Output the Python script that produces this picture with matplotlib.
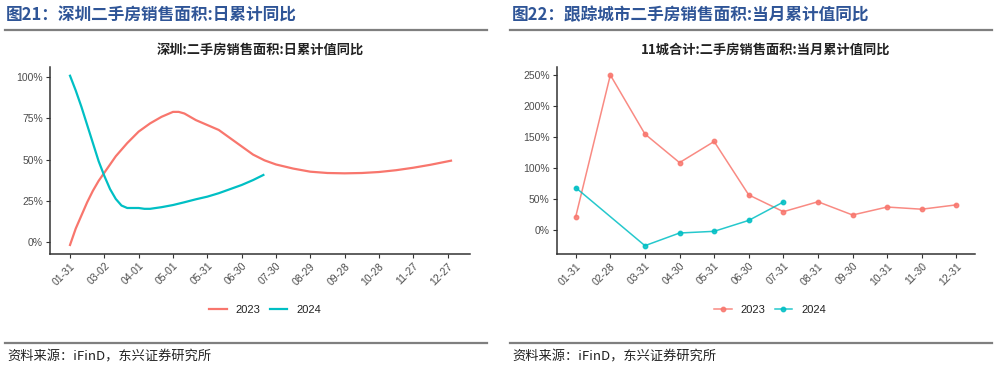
import matplotlib
matplotlib.use("Agg")
import matplotlib.pyplot as plt
from matplotlib.ticker import FuncFormatter
from matplotlib.lines import Line2D

plt.rcParams['font.family'] = ['Noto Sans CJK SC', 'DejaVu Sans']

# ---------------- data ----------------
# Left chart: Shenzhen, daily cumulative YoY (days since 01-31)
left_ticks = ["01-31", "03-02", "04-01", "05-01", "05-31", "06-30",
              "07-30", "08-29", "09-28", "10-28", "11-27", "12-27"]
sz_days_2023 = [0, 5, 10, 15, 20, 25, 30, 40, 50, 60, 70, 80, 90, 95, 100, 110,
                120, 130, 140, 150, 160, 170, 180, 195, 210, 225, 240, 255,
                270, 285, 300, 315, 333]
sz_vals_2023 = [-2, 8, 16, 24, 31, 37, 42, 52, 60, 67, 72, 76, 79, 79, 78, 74,
                71, 68, 63, 58, 53, 49.5, 47, 44.5, 42.6, 41.8, 41.6, 41.8,
                42.4, 43.5, 45, 46.8, 49.3]
sz_days_2024 = [0, 5, 10, 15, 20, 25, 30, 35, 40, 45, 50, 55, 60, 65, 70, 80,
                90, 100, 110, 120, 130, 140, 150, 160, 169]
sz_vals_2024 = [101, 92, 82, 71, 60, 49, 40, 32, 26, 22, 20.5, 20.5, 20.5, 20, 20, 21,
                22.3, 24, 25.8, 27.4, 29.5, 32, 34.5, 37.5, 40.6]

# Right chart: 11 cities, monthly cumulative YoY
right_ticks = ["01-31", "02-28", "03-31", "04-30", "05-31", "06-30",
               "07-31", "08-31", "09-30", "10-31", "11-30", "12-31"]
c11_idx_2023 = [0, 1, 2, 3, 4, 5, 6, 7, 8, 9, 10, 11]
c11_vals_2023 = [22, 250, 155, 109, 143, 57, 30, 46, 24.7, 37.5, 34, 41]
c11_idx_2024 = [0, 2, 3, 4, 5, 6]
c11_vals_2024 = [68.7, -24.7, -4.3, -1.6, 16, 45.6]

series_names = ["2023", "2024"]
C_RED = "#F8766D"
C_CYAN = "#00BFC4"
TITLE_BLUE = "#2F5597"
TICK_GRAY = "#4D4D4D"
LAT = ['Liberation Sans', 'DejaVu Sans']

W, H = 997, 370
fig = plt.figure(figsize=(W / 100, H / 100), dpi=100)


def fx(px):
    return px / W


def fy(py):
    return 1 - py / H


# headers
fig.text(fx(6), fy(15), "图21：深圳二手房销售面积:日累计同比", fontsize=12, fontweight='bold',
         color=TITLE_BLUE, va='center', ha='left')
fig.text(fx(512), fy(15), "图22：跟踪城市二手房销售面积:当月累计值同比", fontsize=12, fontweight='bold',
         color=TITLE_BLUE, va='center', ha='left')
for x0, x1 in [(5, 487), (510, 992)]:
    fig.add_artist(Line2D([fx(x0), fx(x1)], [fy(30), fy(30)], color="#7F7F7F", lw=1.6))
    fig.add_artist(Line2D([fx(x0), fx(x1)], [fy(343), fy(343)], color="#7F7F7F", lw=1.6))
fig.text(fx(7), fy(357), "资料来源：iFinD，东兴证券研究所", fontsize=9.5, style='italic',
         color="#222222", va='center', ha='left')
fig.text(fx(512), fy(357), "资料来源：iFinD，东兴证券研究所", fontsize=9.5, style='italic',
         color="#222222", va='center', ha='left')

pct = FuncFormatter(lambda v, p: f"{v:.0f}%")


def style_axes(ax):
    for s in ['top', 'right']:
        ax.spines[s].set_visible(False)
    for s in ['left', 'bottom']:
        ax.spines[s].set_color("#333333")
        ax.spines[s].set_linewidth(1.1)
    ax.tick_params(axis='both', length=3, width=0.8, color="#333333",
                   labelsize=7.5, labelcolor=TICK_GRAY, pad=2)
    ax.yaxis.set_major_formatter(pct)
    for lab in ax.get_xticklabels() + ax.get_yticklabels():
        lab.set_family(LAT)
    for lab in ax.get_xticklabels():
        lab.set_rotation(45)
        lab.set_ha('right')
        lab.set_va('top')
        lab.set_rotation_mode('anchor')


# left axes
axL = fig.add_axes([fx(50), fy(254), fx(470 - 50), (254 - 66.7) / H])
axL.plot(sz_days_2023, sz_vals_2023, color=C_RED, lw=1.6, label=series_names[0])
axL.plot(sz_days_2024, sz_vals_2024, color=C_CYAN, lw=1.6, label=series_names[1])
axL.set_xlim(-17.5, 349.6)
axL.set_ylim(-7.5, 106.5)
axL.set_xticks([30 * i for i in range(len(left_ticks))])
axL.set_xticklabels(left_ticks)
axL.set_yticks([0, 25, 50, 75, 100])
style_axes(axL)
axL.set_title("深圳:二手房销售面积:日累计值同比", fontsize=9.5, fontweight='bold',
              color="#222222", pad=9)
legL = fig.legend(handles=axL.get_lines(), labels=series_names, loc='center',
                  bbox_to_anchor=(fx(265), fy(310)), ncol=2, frameon=False,
                  prop={'family': LAT, 'size': 8},
                  handlelength=1.6, columnspacing=0.8, handletextpad=0.8)
for t in legL.get_texts():
    t.set_color("#222222")

# right axes
axR = fig.add_axes([fx(556.7), fy(254), fx(974.7 - 556.7), (254 - 66.7) / H])
axR.plot(c11_idx_2023, c11_vals_2023, color=C_RED, lw=1.1, alpha=0.85,
         marker='o', ms=3.2, label=series_names[0])
axR.plot(c11_idx_2024, c11_vals_2024, color=C_CYAN, lw=1.1, alpha=0.85,
         marker='o', ms=3.2, label=series_names[1])
axR.set_xlim(-0.55, 11.53)
axR.set_ylim(-38.1, 263.4)
axR.set_xticks(range(len(right_ticks)))
axR.set_xticklabels(right_ticks)
axR.set_yticks([0, 50, 100, 150, 200, 250])
style_axes(axR)
axR.set_title("11城合计:二手房销售面积:当月累计值同比", fontsize=9.5, fontweight='bold',
              color="#222222", pad=9)
legR = fig.legend(handles=axR.get_lines(), labels=series_names, loc='center',
                  bbox_to_anchor=(fx(770), fy(310)), ncol=2, frameon=False,
                  prop={'family': LAT, 'size': 8},
                  handlelength=1.6, columnspacing=0.8, handletextpad=0.8)
for t in legR.get_texts():
    t.set_color("#222222")

fig.savefig("out.png", dpi=100)
